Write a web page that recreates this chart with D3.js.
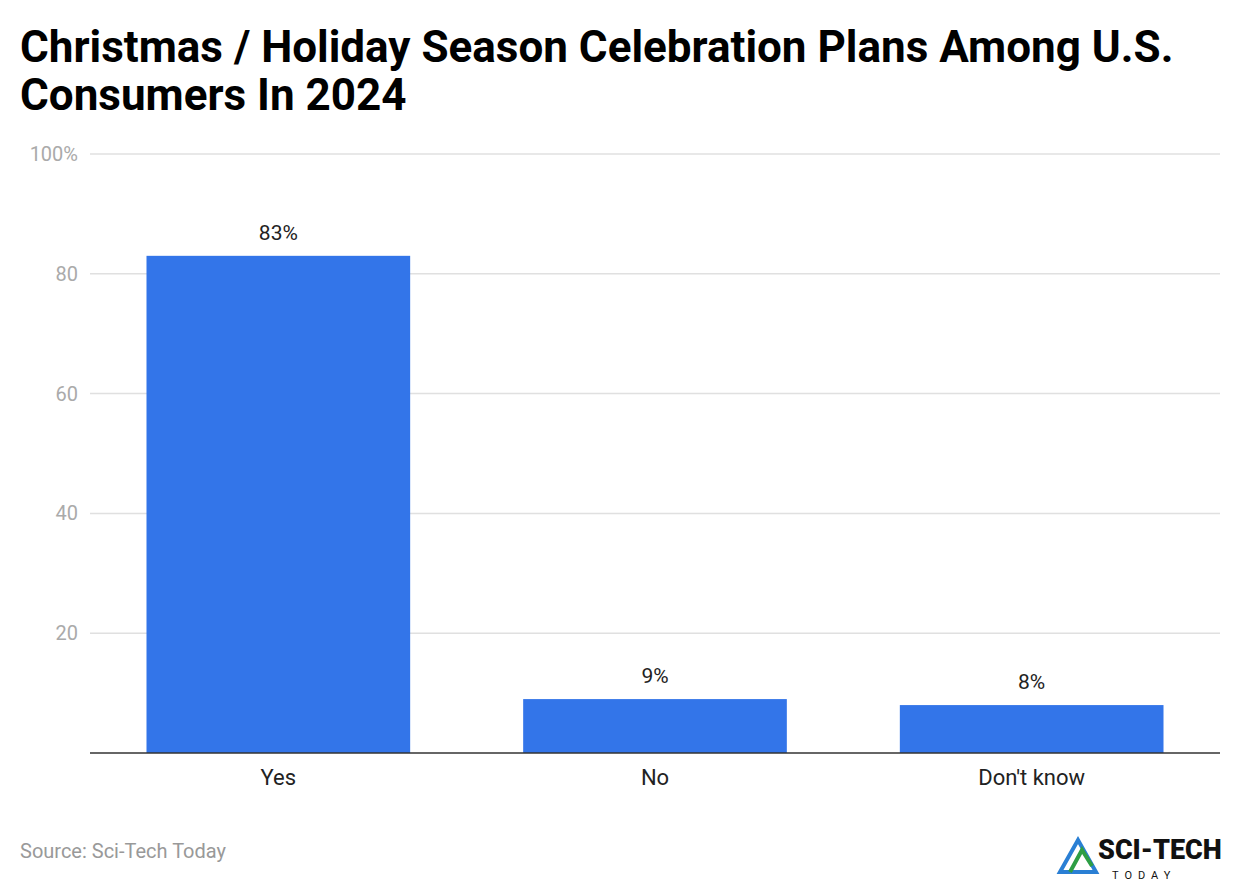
<!DOCTYPE html>
<html><head><meta charset="utf-8">
<script src="https://cdn.jsdelivr.net/npm/d3@7"></script>
<style>body{margin:0;background:#fff;font-family:Roboto,sans-serif}</style>
</head><body><svg id="c" width="1240" height="884"></svg>
<script>
const categories = ["Yes","No","Don't know"];
const values = [83,9,8];
const labels = ["83%","9%","8%"];
const tickValues = [20,40,60,80,100];
const svg = d3.select("#c");
const L=90,R=1220,T=154,B=753;
const x=d3.scaleBand().domain(categories).range([L,R]).paddingInner(0.3).paddingOuter(0.15);
const y=d3.scaleLinear().domain([0,100]).range([B,T]);
svg.append("text").attr("x",20).attr("y",62).attr("font-size",44).attr("font-weight",700).attr("fill","#000").text("Christmas / Holiday Season Celebration Plans Among U.S.");
svg.append("text").attr("x",20).attr("y",110).attr("font-size",44).attr("font-weight",700).attr("fill","#000").text("Consumers In 2024");
svg.selectAll(".g").data(tickValues).join("line").attr("x1",L).attr("x2",R).attr("y1",d=>y(d)).attr("y2",d=>y(d)).attr("stroke","#e0e0e0").attr("stroke-width",1.5);
svg.selectAll(".t").data(tickValues).join("text").attr("x",78).attr("text-anchor","end").attr("y",d=>y(d)+7).attr("font-size",20).attr("fill","#aaa").text(d=>d===100?"100%":d);
svg.selectAll(".b").data(values).join("rect").attr("x",(d,i)=>x(categories[i])).attr("width",x.bandwidth()).attr("y",d=>y(d)).attr("height",d=>B-y(d)).attr("fill","#3375e9");
svg.selectAll(".l").data(values).join("text").attr("x",(d,i)=>x(categories[i])+x.bandwidth()/2).attr("y",d=>y(d)-16).attr("text-anchor","middle").attr("font-size",21).attr("fill","#222").text((d,i)=>labels[i]);
svg.append("line").attr("x1",L).attr("x2",R).attr("y1",B).attr("y2",B).attr("stroke","#333").attr("stroke-width",1.5);
svg.selectAll(".c").data(categories).join("text").attr("x",d=>x(d)+x.bandwidth()/2).attr("y",785).attr("text-anchor","middle").attr("font-size",22).attr("fill","#222").text(d=>d);
svg.append("text").attr("x",20).attr("y",858).attr("font-size",20).attr("fill","#999").text("Source: Sci-Tech Today");
const g=svg.append("g");
g.append("path").attr("d","M1060,872 L1078,840 L1096,872 Z").attr("fill","none").attr("stroke","#2a7fd4").attr("stroke-width",4);
g.append("path").attr("d","M1070,872 L1082,850 L1092,866").attr("fill","none").attr("stroke","#2e9e44").attr("stroke-width",4);
g.append("text").attr("x",1098).attr("y",859).attr("font-size",27).attr("font-weight",900).attr("fill","#111").text("SCI-TECH");
g.append("text").attr("x",1112).attr("y",879).attr("font-size",11).attr("letter-spacing",6).attr("fill","#111").text("TODAY");
</script></body></html>
